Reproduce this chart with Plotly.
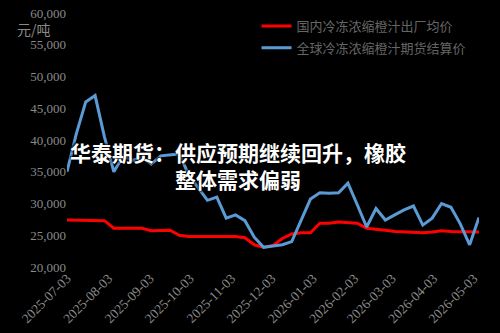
import datetime as dt
import plotly.graph_objects as go

start = dt.date(2025, 7, 3)
dates = [(start + dt.timedelta(days=7 * k)).isoformat() for k in range(45)]

domestic_price = [27400, 27400, 27400, 27400, 27300, 26100, 26100, 26100, 26100, 25700,
                  25700, 25800, 25000, 24800, 24800, 24800, 24800, 24800, 24800, 24600,
                  23500, 23100, 23400, 24500, 25200, 25400, 25400, 26900, 26900, 27100,
                  27000, 26900, 26100, 26000, 25800, 25600, 25500, 25500, 25400, 25500,
                  25700, 25600, 25600, 25500, 25500]

global_futures = [35000, 41000, 46000, 47000, 40500, 35000, 37500, 36800, 37300, 36200,
                  37500, 37700, 37800, 34500, 32500, 30500, 31000, 27700, 28200, 27300,
                  24700, 23100, 23300, 23500, 24000, 27400, 30700, 31700, 31600, 31700,
                  33200, 29800, 26300, 29200, 27400, 28200, 29000, 29600, 26600, 27700,
                  30000, 29400, 26800, 23500, 27800]

series_names = ["国内冷冻浓缩橙汁出厂均价", "全球冷冻浓缩橙汁期货结算价"]
y_ticks = [20000, 25000, 30000, 35000, 40000, 45000, 50000, 55000, 60000]
y_tick_text = ["20,000", "25,000", "30,000", "35,000", "40,000", "45,000", "50,000", "55,000", "60,000"]
unit_label = "元/吨"
title_text = "华泰期货：供应预期继续回升，橡胶<br>整体需求偏弱"

fig = go.Figure()
fig.add_trace(go.Scatter(x=dates, y=domestic_price, mode="lines", name=series_names[0],
                         line=dict(color="#ff0000", width=3), legendgroup="a"))
fig.add_trace(go.Scatter(x=dates, y=global_futures, mode="lines", name=series_names[1],
                         line=dict(color="#5b9bd5", width=3), legendgroup="b"))

fig.update_layout(
    width=500, height=333,
    margin=dict(l=67, r=21, t=13, b=66, autoexpand=False),
    paper_bgcolor="#000000", plot_bgcolor="#000000",
    showlegend=True,
    legend=dict(x=0.46, y=1.008, xanchor="left", yanchor="top",
                bgcolor="rgba(0,0,0,0)", font=dict(family="Noto Sans CJK SC", size=13, color="#666666"),
                tracegroupgap=2, itemwidth=30),
    xaxis=dict(type="date", range=[dates[0], dates[-1]], tick0="2025-07-03", dtick="M1",
               tickformat="%Y-%m-%d", tickangle=-45, showgrid=False, zeroline=False,
               showline=False, ticks="", automargin=False,
               tickfont=dict(family="Liberation Serif", size=13.5, color="#8a8a8a")),
    yaxis=dict(range=[20000, 60000], tickvals=y_ticks, ticktext=y_tick_text,
               showgrid=False, zeroline=False, showline=False, ticks="", automargin=False,
               tickfont=dict(family="Liberation Serif", size=13, color="#8a8a8a")),
    annotations=[
        dict(text=unit_label, xref="paper", yref="paper", x=-0.035, y=0.937,
             xanchor="right", yanchor="middle", showarrow=False,
             font=dict(family="Noto Sans CJK SC", size=14, color="#8a8a8a")),
        dict(text=title_text, xref="paper", yref="paper", x=0.415, y=0.40,
             xanchor="center", yanchor="middle", showarrow=False, align="center",
             font=dict(family="Noto Sans CJK SC", size=21, color="#ffffff", weight="bold",
                       shadow="1px 1px 2px #000, -1px -1px 2px #000")),
    ],
)

fig.write_html("out.html")
